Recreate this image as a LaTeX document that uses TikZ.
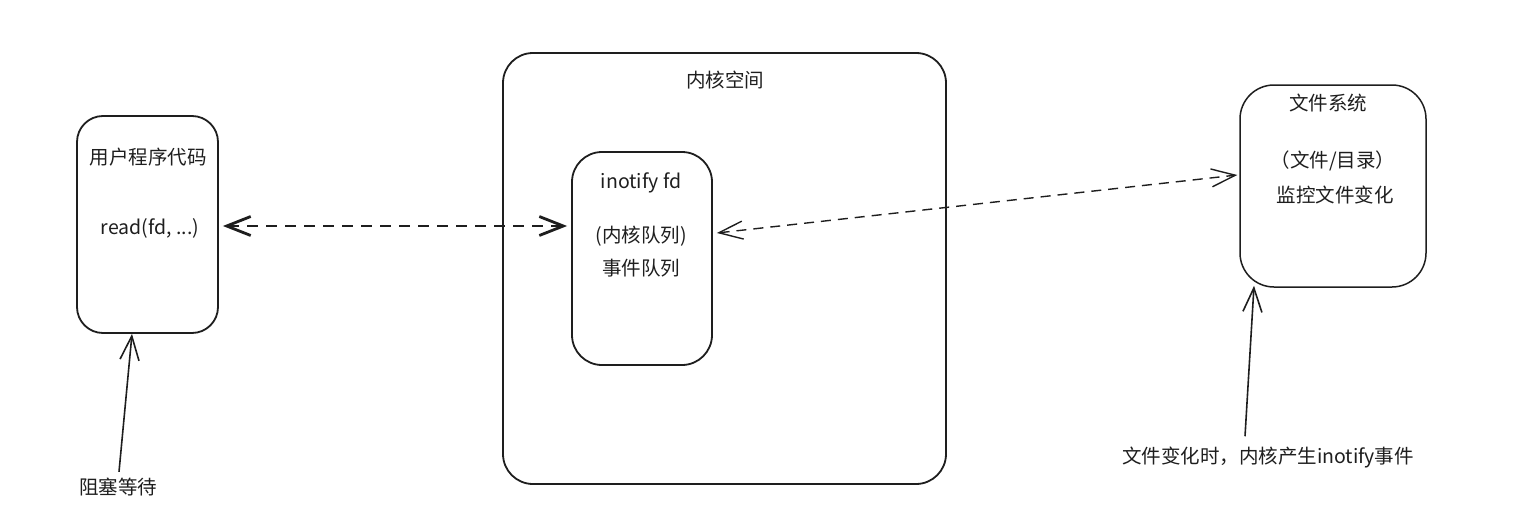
\documentclass[tikz,border=0pt]{standalone}
\usepackage{fontspec}
\newfontfamily\cjk{Noto Sans CJK SC}
\usetikzlibrary{arrows.meta}
\definecolor{ink}{HTML}{1E1E1E}
\tikzset{
  box/.style={draw=ink, line width=1.8pt, rounded corners=#1, inner sep=0pt},
  lbl/.style={font=\cjk\fontsize{19.5}{23}\selectfont, text=ink, inner sep=0pt, anchor=center},
  barb/.style={-{Straight Barb[length=24pt,width=19pt,line width=#1]}},
  conn/.style={draw=ink, line width=1.6pt}
}
\begin{document}
\begin{tikzpicture}[x=1pt,y=-1pt]
\useasboundingbox (0,0) rectangle (1517,527);
% boxes
\node[box=26pt, minimum width=141pt, minimum height=217pt] (user) at (147.5,224.5) {};
\node[box=30pt, minimum width=443pt, minimum height=431pt] (kernel) at (724.5,268.5) {};
\node[box=30pt, minimum width=140pt, minimum height=213pt] (inner) at (642,258.5) {};
\node[box=34pt, line width=1.5pt, minimum width=186pt, minimum height=202pt] (fs) at (1333,186) {};
% texts
\node[lbl] (tuser) at (148,157) {用户程序代码};
\node[lbl] (tread) at (150,228) {read(fd, ...)};
\node[lbl] (tkernel) at (725,80) {内核空间};
\node[lbl] (tino) at (641,183) {inotify fd};
\node[lbl] (tq1) at (641,236) {(内核队列)};
\node[lbl] (tq2) at (641,268) {事件队列};
\node[lbl] (tfs) at (1328,103) {文件系统};
\node[lbl] (tfs2) at (1333,161) {（文件/目录）};
\node[lbl] (tfs3) at (1335,195) {监控文件变化};
\node[lbl] (block) at (118,487) {阻塞等待};
\node[lbl] (event) at (1268,457) {文件变化时，内核产生inotify事件};
% connectors
\draw[conn, line width=2.8pt, dash pattern=on 11pt off 8pt, {Straight Barb[length=24pt,width=19pt,line width=2.8pt]}-{Straight Barb[length=24pt,width=19pt,line width=2.8pt]}]
  ([shift={(4,1.5)}]user.east) -- ([shift={(-4,-32.5)}]inner.west);
\draw[conn, line width=1.4pt, dash pattern=on 10pt off 7pt, {Straight Barb[length=24pt,width=18pt,line width=1.4pt]}-{Straight Barb[length=24pt,width=18pt,line width=1.4pt]}]
  ([shift={(4,-25.5)}]inner.east) -- ([shift={(-2,-11)}]fs.west);
\draw[conn, barb=1.6pt] ([shift={(1,-6)}]block.north) -- ([shift={(-15.5,0)}]user.south);
\draw[conn, barb=1.6pt] ([shift={(-23,-10)}]event.north) -- ([shift={(-79,-2)}]fs.south);
\end{tikzpicture}
\end{document}
